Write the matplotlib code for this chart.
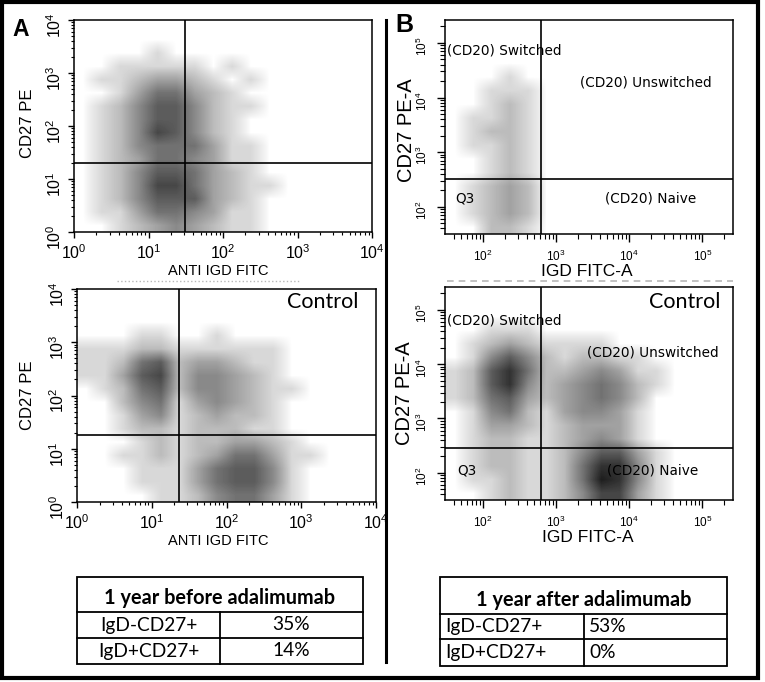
import numpy as np
import matplotlib
matplotlib.use('Agg')
import matplotlib.pyplot as plt
from matplotlib.colors import LinearSegmentedColormap, PowerNorm
from matplotlib.patches import Rectangle
from matplotlib.lines import Line2D
from matplotlib.ticker import FixedLocator, FuncFormatter

plt.rcParams['font.family'] = ['Liberation Sans', 'DejaVu Sans']
plt.rcParams['mathtext.fontset'] = 'custom'
plt.rcParams['mathtext.rm'] = 'Liberation Sans'

W, H = 765, 682

# event density, 0.25 decade bins, rows from top to bottom
# panel A: x and y from 10^0 to 10^4
a_before_rows = [
    "0000000000000000",
    "0000000000000000",
    "0000100000000000",
    "0011111010000000",
    "0112332101000000",
    "0013553210000000",
    "0124664211000000",
    "0124664210000000",
    "0124764210000000",
    "0124555311000000",
    "0123554311000000",
    "0124665321000000",
    "0124775321100000",
    "0124666321000000",
    "0113554311000000",
    "0012343211000000",
]
a_control_rows = [
    "0000000000000000",
    "0000000000000000",
    "0000000000000000",
    "0001100100000000",
    "1112211111100000",
    "1125623321100000",
    "1136724432100000",
    "0125624432110000",
    "0024513432100000",
    "0013412322100000",
    "0012212221100000",
    "0001212233210000",
    "0011212355311000",
    "0001113566410000",
    "0001113566410000",
    "0000112455310000",
]
# panel B: x and y from 10^1.5 to 10^5.5
b_after_rows = [
    "0000000000000000",
    "0000000000000000",
    "0000000000000000",
    "0000000000000000",
    "0001000000000000",
    "0011100000000000",
    "0012100000000000",
    "0112100000000000",
    "0122100000000000",
    "0112100000000000",
    "0012100000000000",
    "0012100000000000",
    "0123200000000000",
    "0123200000000000",
    "0123200000000000",
    "0022100000000000",
]
b_control_rows = [
    "0000000000000000",
    "0000000000000000",
    "0000000000000000",
    "0011100000000000",
    "0123211110000000",
    "0146421221100000",
    "1268522343110000",
    "1268423454210000",
    "1256323454200000",
    "0145213443100000",
    "0133212333100000",
    "0122112343100000",
    "0122112466310000",
    "0122112588410000",
    "0112112598410000",
    "0012112477310000",
]

# quadrant gates (log10 of IgD, log10 of CD27)
gate_a_before = [1.49, 1.30]
gate_a_control = [1.36, 1.26]
gate_b_after = [2.79, 2.51]
gate_b_control = [2.79, 2.46]

b_quadrants = ['(CD20) Switched', '(CD20) Unswitched', '(CD20) Naive', 'Q3']

table_a_title = '1 year before adalimumab'
table_b_title = '1 year after adalimumab'
row_labels = ['IgD-CD27+', 'IgD+CD27+']
before_vals = ['35%', '14%']
after_vals = ['53%', '0%']


def grid(rows):
    return np.array([[int(c) for c in r] for r in rows], dtype=float)


def fx(x):
    return x / W


def fy(y):
    return 1 - y / H


def make_ax(fig, l, r, t, b):
    return fig.add_axes([fx(l), fy(b), (r - l) / W, (b - t) / H])


dots = LinearSegmentedColormap.from_list('dots', ['white', 'black'])
dec_fmt = FuncFormatter(lambda v, p: r'$\mathregular{10^{%d}}$' % round(v))

fig = plt.figure(figsize=(W / 100, H / 100), dpi=100)


def a_plot(box, rows, gate):
    ax = make_ax(fig, *box)
    ax.imshow(grid(rows), extent=(0, 4, 0, 4), origin='upper', cmap=dots,
              norm=PowerNorm(0.8, vmin=0, vmax=10.5), interpolation='bilinear', aspect='auto')
    ax.axvline(gate[0], color='black', lw=1.2)
    ax.axhline(gate[1], color='black', lw=1.2)
    ax.set_xlim(0, 4)
    ax.set_ylim(0, 4)
    ax.xaxis.set_major_locator(FixedLocator([0, 1, 2, 3, 4]))
    ax.yaxis.set_major_locator(FixedLocator([0, 1, 2, 3, 4]))
    minor = [n + np.log10(k) for n in range(4) for k in range(2, 10)]
    ax.xaxis.set_minor_locator(FixedLocator(minor))
    ax.yaxis.set_minor_locator(FixedLocator(minor))
    ax.xaxis.set_major_formatter(dec_fmt)
    ax.yaxis.set_major_formatter(dec_fmt)
    ax.tick_params(which='major', direction='out', length=4, width=1, labelsize=11.5)
    ax.tick_params(which='minor', direction='out', length=2.5, width=0.8)
    ax.tick_params(axis='x', pad=4)
    ax.tick_params(axis='y', labelrotation=90, pad=3)
    for s in ax.spines.values():
        s.set_linewidth(1.1)
    return ax


def b_plot(box, rows, gate):
    ax = make_ax(fig, *box)
    ax.imshow(grid(rows), extent=(1.5, 5.5, 1.5, 5.5), origin='upper', cmap=dots,
              norm=PowerNorm(0.8, vmin=0, vmax=10.5), interpolation='bilinear', aspect='auto')
    ax.axvline(gate[0], color='black', lw=1.2)
    ax.axhline(gate[1], color='black', lw=1.2)
    ax.set_xlim(1.48, 5.42)
    ax.set_ylim(1.5, 5.42)
    ax.xaxis.set_major_locator(FixedLocator([2, 3, 4, 5]))
    ax.yaxis.set_major_locator(FixedLocator([2, 3, 4, 5]))
    minor = [n + np.log10(k) for n in range(1, 6) for k in range(2, 10)]
    ax.xaxis.set_minor_locator(FixedLocator(minor))
    ax.yaxis.set_minor_locator(FixedLocator(minor))
    ax.xaxis.set_major_formatter(dec_fmt)
    ax.yaxis.set_major_formatter(dec_fmt)
    ax.tick_params(which='major', direction='out', length=6, width=1, labelsize=8.5, pad=5)
    ax.tick_params(which='minor', direction='out', length=3.5, width=0.8)
    ax.tick_params(axis='y', labelrotation=90)
    for s in ax.spines.values():
        s.set_linewidth(1.1)
    return ax


a_plot((74, 372, 20, 232), a_before_rows, gate_a_before)
a_plot((77, 376, 289, 502), a_control_rows, gate_a_control)
b_plot((445, 733, 20, 234), b_after_rows, gate_b_after)
b_plot((445, 733, 287, 500), b_control_rows, gate_b_control)

# faint leftovers of a cropped axis line under the top plots
fig.add_artist(Line2D([fx(117), fx(300)], [fy(281), fy(281)], color='#b8b8b8', lw=1, ls=':'))
fig.add_artist(Line2D([fx(447), fx(733)], [fy(281), fy(281)], color='#b8b8b8', lw=1.2, ls=(0, (4, 3))))

# axis titles
fig.text(fx(27), fy(123), 'CD27 PE', rotation=90, ha='center', va='center', fontsize=12)
fig.text(fx(27), fy(395), 'CD27 PE', rotation=90, ha='center', va='center', fontsize=12)
fig.text(fx(218), fy(271), 'ANTI IGD FITC', ha='center', va='center', fontsize=10.5)
fig.text(fx(218), fy(541), 'ANTI IGD FITC', ha='center', va='center', fontsize=10.5)
fig.text(fx(406), fy(130), 'CD27 PE-A', rotation=90, ha='center', va='center', fontsize=14.5)
fig.text(fx(405), fy(393), 'CD27 PE-A', rotation=90, ha='center', va='center', fontsize=14.5)
fig.text(fx(587), fy(271), 'IGD FITC-A', ha='center', va='center', fontsize=12.5)
fig.text(fx(588), fy(538), 'IGD FITC-A', ha='center', va='center', fontsize=12.5)

# quadrant names in panel B
qfont = dict(family='DejaVu Sans', fontsize=9.8, va='center', ha='left')
for (x, y), t in zip([(447, 51), (580, 82), (605, 198), (455, 198)], b_quadrants):
    fig.text(fx(x), fy(y), t, **qfont)
for (x, y), t in zip([(447, 321), (587, 353), (607, 470), (457, 470)], b_quadrants):
    fig.text(fx(x), fy(y), t, **qfont)

fig.text(fx(358), fy(302), 'Control', ha='right', va='center', fontsize=15.5, family='Lato')
fig.text(fx(720), fy(302), 'Control', ha='right', va='center', fontsize=15.5, family='Lato')

fig.text(fx(12), fy(29), 'A', fontsize=16.5, fontweight='bold', ha='left', va='center')
fig.text(fx(395), fy(25), 'B', fontsize=18, fontweight='bold', ha='left', va='center')


def line(x0, y0, x1, y1, lw=1.3):
    fig.add_artist(Line2D([fx(x0), fx(x1)], [fy(y0), fy(y1)], color='black', lw=lw))


def table(l, r, t, hb, rl, b, div, title, vals, left_align):
    fig.add_artist(Rectangle((fx(l), fy(b)), (r - l) / W, (b - t) / H, fill=False,
                             edgecolor='black', lw=1.3, transform=fig.transFigure))
    line(l, hb, r, hb)
    line(l, rl, r, rl)
    line(div, hb, div, b)
    fig.text(fx((l + r) / 2), fy(hb - 14), title, ha='center', va='center',
             fontsize=14.3, fontweight='bold', family='Lato')
    ys = [(hb + rl) / 2, (rl + b) / 2]
    tf = dict(va='center', fontsize=13.8, family='Lato')
    for y, lab, v in zip(ys, row_labels, vals):
        if left_align:
            fig.text(fx(l + 5), fy(y), lab, ha='left', **tf)
            fig.text(fx(div + 5), fy(y), v, ha='left', **tf)
        else:
            fig.text(fx((l + div) / 2), fy(y), lab, ha='center', **tf)
            fig.text(fx((div + r) / 2), fy(y), v, ha='center', **tf)


table(77, 363, 577, 612, 638, 664, 220, table_a_title, before_vals, False)
table(440, 727, 577, 614, 639, 666, 584, table_b_title, after_vals, True)

# frame and divider
fig.add_artist(Rectangle((fx(2), fy(678)), 756 / W, 676 / H, fill=False, edgecolor='black',
                         lw=3, transform=fig.transFigure))
line(386, 20, 386, 662, lw=2.2)

fig.savefig('out.png', dpi=100)
